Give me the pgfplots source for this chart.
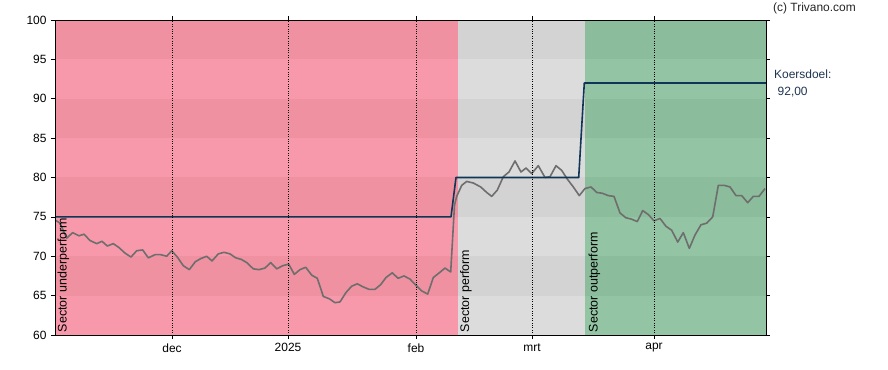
\documentclass[border=0pt]{standalone}
\usepackage{pgfplots}
\pgfplotsset{compat=1.18}
\usepackage{fontspec}
\setmainfont{Liberation Sans}
\definecolor{redL}{HTML}{F799AB}
\definecolor{redD}{HTML}{EF91A1}
\definecolor{grayL}{HTML}{DCDCDC}
\definecolor{grayD}{HTML}{D3D3D3}
\definecolor{greenL}{HTML}{93C4A4}
\definecolor{greenD}{HTML}{8BBC9C}
\definecolor{priceC}{HTML}{6E6E6E}
\definecolor{targetC}{HTML}{0F3557}
\definecolor{txtC}{HTML}{1F3550}
\begin{document}
\begin{tikzpicture}
\begin{axis}[
  scale only axis,
  width=711bp, height=315bp,
  xmin=55, xmax=766, ymin=60, ymax=100,
  axis on top,
  clip=false,
  axis line style={black, line width=0.8pt},
  xtick={172,288,416,532,654},
  xticklabels={dec,2025,feb,mrt,apr},
  ytick={60,65,...,100},
  tick align=outside,
  major tick length=4bp,
  tick style={black, line width=0.6pt},
  xmajorgrids,
  grid style={black, dotted, line width=0.7pt},
  every tick label/.append style={font=\fontsize{12}{14}\selectfont, text=black},
  /pgf/number format/assume math mode=true,
  xticklabel style={yshift=-1bp},
  yticklabel style={xshift=-1bp},
]
% backgrounds
\fill[redL] (axis cs:55,60) rectangle (axis cs:457.7,100);
\fill[redD] (axis cs:55,65) rectangle (axis cs:457.7,70);
\fill[redD] (axis cs:55,75) rectangle (axis cs:457.7,80);
\fill[redD] (axis cs:55,85) rectangle (axis cs:457.7,90);
\fill[redD] (axis cs:55,95) rectangle (axis cs:457.7,100);
\fill[grayL] (axis cs:457.7,60) rectangle (axis cs:585.3,100);
\fill[grayD] (axis cs:457.7,65) rectangle (axis cs:585.3,70);
\fill[grayD] (axis cs:457.7,75) rectangle (axis cs:585.3,80);
\fill[grayD] (axis cs:457.7,85) rectangle (axis cs:585.3,90);
\fill[grayD] (axis cs:457.7,95) rectangle (axis cs:585.3,100);
\fill[greenL] (axis cs:585.3,60) rectangle (axis cs:766,100);
\fill[greenD] (axis cs:585.3,65) rectangle (axis cs:766,70);
\fill[greenD] (axis cs:585.3,75) rectangle (axis cs:766,80);
\fill[greenD] (axis cs:585.3,85) rectangle (axis cs:766,90);
\fill[greenD] (axis cs:585.3,95) rectangle (axis cs:766,100);
% price
\addplot[priceC, line width=1.6bp, line join=round] coordinates {
(55.3,74.6)(60,74.2)(66.7,72.3)(72.7,73.0)(79,72.6)(84,72.8)(90,72.0)(96.7,71.6)
(102,71.9)(107.3,71.3)(113.3,71.6)(119,71.1)(125,70.4)(131,69.9)(136.7,70.7)(142.7,70.8)
(148.3,69.8)(155,70.2)(160.7,70.2)(166.7,70.0)(171.7,70.7)(177.3,69.9)(183.3,68.8)(189.3,68.3)
(195.3,69.3)(200.7,69.7)(206.7,70.0)(212,69.4)(218.3,70.3)(224,70.5)(230,70.3)(235.7,69.8)
(241.3,69.6)(246.7,69.2)(253.3,68.4)(259,68.3)(265,68.5)(270.7,69.2)(276.7,68.4)(282.7,68.8)
(288.7,69.0)(294.3,67.7)(300,68.3)(305.7,68.6)(311.7,67.6)(317.3,67.2)(323.3,64.9)(329.3,64.6)
(335,64.1)(340,64.2)(346,65.4)(351.7,66.2)(357.3,66.5)(363.3,66.1)(369,65.8)(375,65.8)
(380.7,66.4)(386,67.3)(392.3,67.9)(398,67.2)(404,67.5)(410,67.1)(416,66.3)(421.7,65.6)
(427.7,65.2)(433.3,67.3)(439.3,67.9)(445,68.5)(450.7,68.0)(454.5,76.5)(456.7,77.6)(461.7,79.0)
(466.7,79.5)(473.3,79.3)(480.7,78.8)(486.7,78.1)(491.7,77.6)(497.3,78.4)(503.3,80.1)(509,80.7)
(515,82.1)(521,80.7)(526,81.2)(531.7,80.5)(538.3,81.5)(545,80.0)(550,80.1)(556,81.5)
(561.7,80.9)(567.3,79.8)(573.3,78.8)(579.3,77.7)(585,78.6)(591,78.8)(596.7,78.1)(602.3,78.0)
(608.3,77.7)(614,77.6)(620,75.5)(625.7,74.9)(631.7,74.7)(637.3,74.4)(642.7,75.8)(648.3,75.3)
(654,74.5)(660,74.8)(666,73.8)(671.7,73.3)(677.7,71.8)(683.3,73.0)(689.3,71.0)(695,72.7)
(701,74.0)(706.7,74.2)(712.7,75.0)(718.3,79.0)(724.3,79.0)(730,78.8)(736,77.7)(741.7,77.7)
(747.7,76.8)(753.3,77.6)(759,77.6)(765,78.6)
};
% target
\addplot[targetC, line width=1.6bp, line join=round] coordinates {
(55,75)(451,75)(456,80)(578.7,80)(584.3,92)(766,92)
};
% labels
\node[rotate=90, anchor=west, font=\fontsize{12.5}{14}\selectfont, inner sep=0pt] at (axis cs:63.5,60.35) {Sector underperform};
\node[rotate=90, anchor=west, font=\fontsize{12.5}{14}\selectfont, inner sep=0pt] at (axis cs:466,60.35) {Sector perform};
\node[rotate=90, anchor=west, font=\fontsize{12.5}{14}\selectfont, inner sep=0pt] at (axis cs:594.5,60.35) {Sector outperform};
\node[anchor=west, font=\fontsize{12}{14}\selectfont, inner sep=0pt, text=txtC] at (axis cs:774,93.1) {Koersdoel:};
\node[anchor=west, font=\fontsize{12}{14}\selectfont, inner sep=0pt, text=txtC] at (axis cs:777.5,90.85) {92,00};
\node[anchor=west, font=\fontsize{12}{14}\selectfont, inner sep=0pt, text=black!85] at (axis cs:773,101.5) {(c) Trivano.com};
\end{axis}
\pgfresetboundingbox
\path[use as bounding box] ([xshift=-55bp,yshift=-35bp]current axis.south west) rectangle ([xshift=122bp,yshift=20bp]current axis.north east);
\end{tikzpicture}
\end{document}
